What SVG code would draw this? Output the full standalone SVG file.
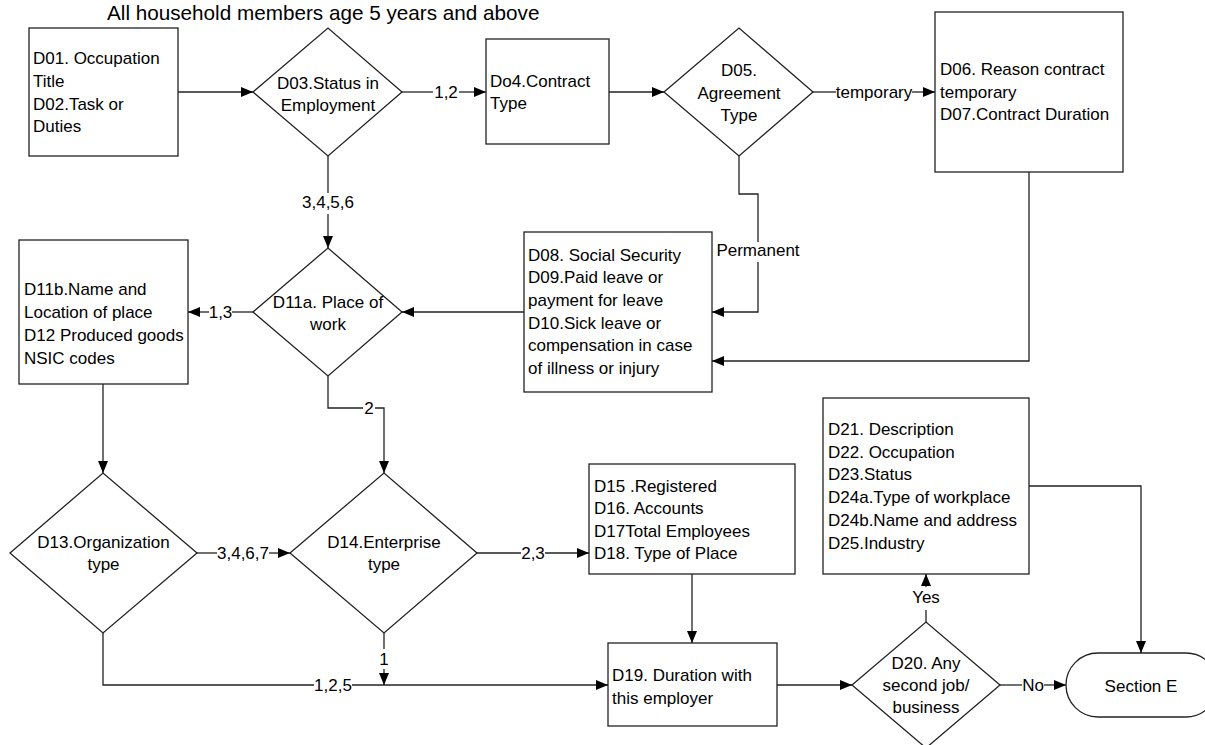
<svg xmlns="http://www.w3.org/2000/svg" width="1205" height="745" viewBox="0 0 1205 745">
<defs>
<marker id="arr" markerUnits="userSpaceOnUse" markerWidth="12" markerHeight="10" refX="12" refY="5" orient="auto">
<path d="M0,0 L12,5 L0,10 z" fill="#000"/>
</marker>
</defs>
<style>
text{font-family:"Liberation Sans",Arial,sans-serif;font-size:17px;fill:#000}
.title{font-size:20.7px}
.shape{fill:#fff;stroke:#222;stroke-width:1.3}
.c{text-anchor:middle}
.conn path{fill:none;stroke:#222;stroke-width:1.3}
.lbl text{text-anchor:middle}
</style>
<rect width="1205" height="745" fill="#fff"/>
<text class="title" x="107" y="20">All household members age 5 years and above</text>

<g id="D01">
<rect class="shape" x="29" y="28" width="149" height="128"/>
<text x="33" y="64">D01. Occupation</text>
<text x="33" y="87">Title</text>
<text x="33" y="110">D02.Task or</text>
<text x="33" y="132">Duties</text>
</g>
<g id="D03">
<polygon class="shape" points="253,92 328,28 402,92 328,156"/>
<text class="c" x="328" y="89">D03.Status in</text>
<text class="c" x="328" y="111">Employment</text>
</g>
<g id="D04">
<rect class="shape" x="486" y="39" width="123" height="105"/>
<text x="490" y="87">Do4.Contract</text>
<text x="490" y="109">Type</text>
</g>
<g id="D05">
<polygon class="shape" points="664,92 739,28 813,92 739,156"/>
<text class="c" x="739" y="76">D05.</text>
<text class="c" x="739" y="98.5">Agreement</text>
<text class="c" x="739" y="120.5">Type</text>
</g>
<g id="D06">
<rect class="shape" x="935" y="12" width="188" height="160"/>
<text x="940" y="75">D06. Reason contract</text>
<text x="940" y="97.5">temporary</text>
<text x="940" y="120">D07.Contract Duration</text>
</g>
<g id="D08">
<rect class="shape" x="524" y="232" width="188" height="160"/>
<text x="528" y="260.5">D08. Social Security</text>
<text x="528" y="283.2">D09.Paid leave or</text>
<text x="528" y="305.9">payment for leave</text>
<text x="528" y="328.6">D10.Sick leave or</text>
<text x="528" y="351.3">compensation in case</text>
<text x="528" y="374">of illness or injury</text>
</g>
<g id="D11a">
<polygon class="shape" points="253,312 328,248 402,312 328,376"/>
<text class="c" x="328" y="307.5">D11a. Place of</text>
<text class="c" x="328" y="329.5">work</text>
</g>
<g id="D11b">
<rect class="shape" x="19" y="240" width="169" height="144"/>
<text x="24" y="295">D11b.Name and</text>
<text x="24" y="317.7">Location of place</text>
<text x="24" y="340.7">D12 Produced goods</text>
<text x="24" y="364">NSIC codes</text>
</g>
<g id="D13">
<polygon class="shape" points="10,553 103,473 197,553 103,633"/>
<text class="c" x="103.5" y="547.5">D13.Organization</text>
<text class="c" x="103.5" y="570">type</text>
</g>
<g id="D14">
<polygon class="shape" points="290,553 384,473 477,553 384,633"/>
<text class="c" x="384" y="547.5">D14.Enterprise</text>
<text class="c" x="384" y="570">type</text>
</g>
<g id="D15">
<rect class="shape" x="589" y="464" width="206" height="110"/>
<text x="594" y="492">D15 .Registered</text>
<text x="594" y="514.4">D16. Accounts</text>
<text x="594" y="536.8">D17Total Employees</text>
<text x="594" y="559.2">D18. Type of Place</text>
</g>
<g id="D19">
<rect class="shape" x="608" y="643" width="169" height="83"/>
<text x="612" y="681">D19. Duration with</text>
<text x="612" y="703.5">this employer</text>
</g>
<g id="D20">
<polygon class="shape" points="852,685 926,622 1000,685 926,748"/>
<text class="c" x="926" y="668.5">D20. Any</text>
<text class="c" x="926" y="691">second job/</text>
<text class="c" x="926" y="713">business</text>
</g>
<g id="D21">
<rect class="shape" x="823" y="398" width="206" height="176"/>
<text x="828" y="435">D21. Description</text>
<text x="828" y="457.7">D22. Occupation</text>
<text x="828" y="480.4">D23.Status</text>
<text x="828" y="503.1">D24a.Type of workplace</text>
<text x="828" y="525.8">D24b.Name and address</text>
<text x="828" y="548.5">D25.Industry</text>
</g>
<g id="SectionE">
<rect class="shape" x="1066" y="653" width="152" height="64" rx="32" ry="32"/>
<text class="c" x="1141" y="691.5">Section E</text>
</g>

<g id="connectors" class="conn">
<path d="M178,92 H253" marker-end="url(#arr)"/>
<path d="M402,92 H433"/>
<path d="M459,92 H486" marker-end="url(#arr)"/>
<path d="M609,92 H664" marker-end="url(#arr)"/>
<path d="M813,92 H836"/>
<path d="M912,92 H935" marker-end="url(#arr)"/>
<path d="M739,156 V194 H758 V242"/>
<path d="M758,262 V312 H712" marker-end="url(#arr)"/>
<path d="M1029,172 V361 H712" marker-end="url(#arr)"/>
<path d="M524,312 H402" marker-end="url(#arr)"/>
<path d="M328,156 V193"/>
<path d="M328,214 V248" marker-end="url(#arr)"/>
<path d="M253,312 H232"/>
<path d="M209,312 H188" marker-end="url(#arr)"/>
<path d="M103,384 V473" marker-end="url(#arr)"/>
<path d="M328,376 V408 H363"/>
<path d="M375,408 H384 V473" marker-end="url(#arr)"/>
<path d="M197,553 H217"/>
<path d="M269,553 H290" marker-end="url(#arr)"/>
<path d="M477,553 H521"/>
<path d="M545,553 H589" marker-end="url(#arr)"/>
<path d="M692,574 V643" marker-end="url(#arr)"/>
<path d="M103,633 V685 H314"/>
<path d="M352,685 H608" marker-end="url(#arr)"/>
<path d="M384,633 V649"/>
<path d="M384,669 V685" marker-end="url(#arr)"/>
<path d="M777,685 H852" marker-end="url(#arr)"/>
<path d="M926,622 V610"/>
<path d="M926,587 V574" marker-end="url(#arr)"/>
<path d="M1029,486 H1141 V653" marker-end="url(#arr)"/>
<path d="M1000,685 H1022"/>
<path d="M1044,685 H1066" marker-end="url(#arr)"/>
<g class="lbl">
<text x="446" y="98">1,2</text>
<text x="874" y="98">temporary</text>
<text x="758" y="256">Permanent</text>
<text x="328" y="208">3,4,5,6</text>
<text x="220.5" y="318">1,3</text>
<text x="369" y="414">2</text>
<text x="243" y="559">3,4,6,7</text>
<text x="533" y="559">2,3</text>
<text x="333" y="691">1,2,5</text>
<text x="384" y="665">1</text>
<text x="926" y="603">Yes</text>
<text x="1033" y="691">No</text>
</g>
</g>
</svg>
